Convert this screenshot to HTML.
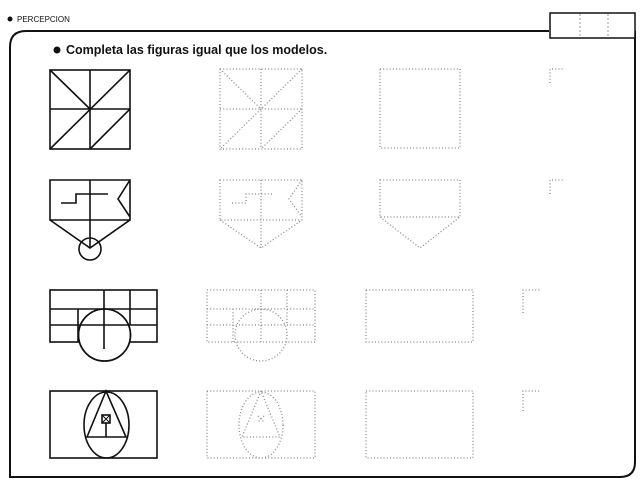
<!DOCTYPE html>
<html><head><meta charset="utf-8"><style>
html,body{margin:0;padding:0;background:#fff;width:640px;height:489px;overflow:hidden}
</style></head><body>
<svg width="640" height="489" viewBox="0 0 640 489" xmlns="http://www.w3.org/2000/svg" font-family="Liberation Sans, sans-serif">
<circle cx="10" cy="19" r="2.5" fill="#111"/>
<text x="17" y="22" font-size="8" fill="#111">PERCEPCION</text>
<path d="M10 47 Q10 31 26 31 L549 31 M635 31 L635 462 Q635 477 620 477 L10 477 L10 47" fill="none" stroke="#111" stroke-width="2"/>
<rect x="550" y="13" width="85" height="25" fill="#fff" stroke="#111" stroke-width="1.5"/>
<line x1="580" y1="14" x2="580" y2="37" stroke="#999" stroke-dasharray="2 2"/>
<line x1="608" y1="14" x2="608" y2="37" stroke="#999" stroke-dasharray="2 2"/>
<circle cx="57" cy="50" r="3.5" fill="#111"/>
<text x="66" y="54" font-size="12.5" font-weight="bold" fill="#111">Completa las figuras igual que los modelos.</text>

<g fill="none" stroke="#111" stroke-width="1.6">
<rect x="50" y="70" width="80" height="79"/>
<path d="M90 70V149M50 109H130M50 70L90 109M130 70L50 149M130 109L90 149"/>
<path d="M50 180H130V220H50Z M90 180V248 M50 220L90 248L130 220 M130 180L118 199L130 217 M61 203H76V194H108"/>
<circle cx="90" cy="249" r="11"/>
<rect x="50" y="290" width="107" height="52"/>
<path d="M50 309H157M50 325H157M104 290V342M130 290V325M78 309V342"/>
<circle cx="104.5" cy="335" r="26" fill="#fff"/>
<path d="M80 325H129M104 309V349"/>
<circle cx="104.5" cy="335" r="26"/>
<rect x="50" y="391" width="107" height="67"/>
<ellipse cx="106.5" cy="425" rx="22.5" ry="33"/>
<path d="M106 391L87 437H126Z M106 423V437"/>
<rect x="102" y="415" width="8" height="8"/>
<path d="M102 415L110 423M110 415L102 423" stroke-width="1"/>
</g>

<g fill="none" stroke="#888" stroke-width="1.3" stroke-dasharray="1 2.2">
<rect x="220" y="69" width="82" height="80"/>
<path d="M261 69V149M220 109H302M220 69L261 109M302 69L220 149M302 109L261 149"/>
<path d="M220 180H302V220H220Z M261 180V248 M220 220L261 248L302 220 M302 180L289 199L302 217 M232 203H246V194H274"/>
<rect x="207" y="290" width="108" height="52"/>
<path d="M207 309H315M207 325H315M261 290V342M287 290V325M233 309V342"/>
<circle cx="261" cy="335" r="26"/>
<rect x="207" y="391" width="108" height="67"/>
<ellipse cx="261" cy="425" rx="22" ry="33"/>
<path d="M261 391L242 437H280Z"/>
<path d="M258 416L264 422M264 416L258 422"/>

<rect x="380" y="69" width="80" height="79"/>
<path d="M380 180H460V217H380Z M380 217L420 248L460 217"/>
<rect x="366" y="290" width="107" height="52"/>
<rect x="366" y="391" width="107" height="67"/>

<path d="M550 83V69H564"/>
<path d="M550 194V180H564"/>
<path d="M523 313V290H541"/>
<path d="M523 411V391H541"/>
</g>
</svg>
</body></html>
